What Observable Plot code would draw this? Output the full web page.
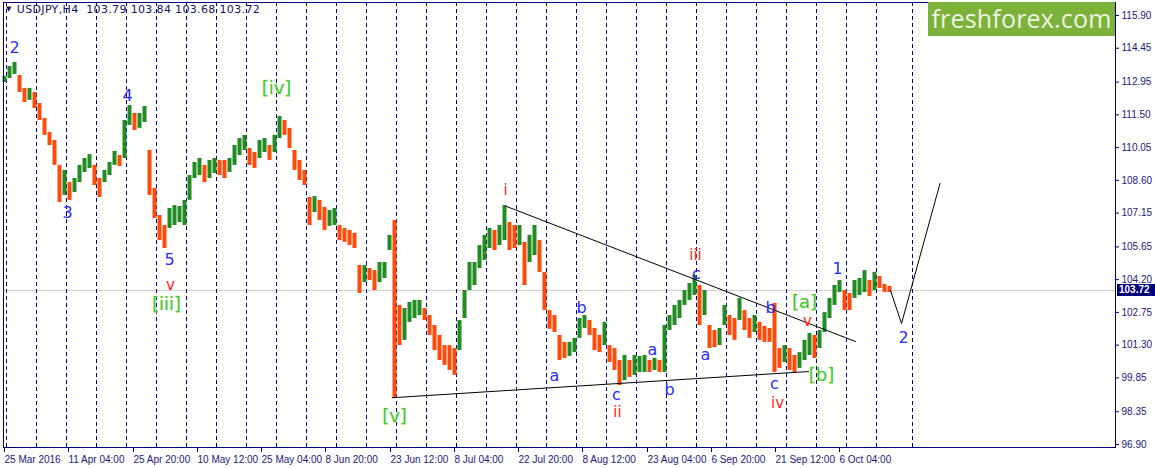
<!DOCTYPE html>
<html>
<head>
<meta charset="utf-8">
<script src="https://cdn.jsdelivr.net/npm/d3@7"></script>
<script src="https://cdn.jsdelivr.net/npm/@observablehq/plot@0.6"></script>
<style>
  html, body { margin: 0; padding: 0; background: #fff; }
  #wrap { position: relative; width: 1155px; height: 468px; overflow: hidden; }
  #title { position: absolute; left: 6px; top: 3px; font: 11px "DejaVu Sans", sans-serif; letter-spacing: 0.35px; color: #14145a; white-space: pre; }
  #title .tri { font-size: 7px; vertical-align: 2px; margin-right: 5px; }
  #logo { position: absolute; left: 928px; top: 2px; width: 187px; height: 34px; background: #7db23a;
          color: #eef3e2; font: 25px "Open Sans", sans-serif; line-height: 33px; text-align: center; letter-spacing: 0.2px; }
  #last { position: absolute; left: 1117px; width: 38px; height: 12px; background: #00007a; color: #fff;
          font: bold 10px "Liberation Sans", Arial, sans-serif; line-height: 12px; padding-left: 2px; }
</style>
</head>
<body>
<div id="wrap"></div>
<script>
// ---- data (USDJPY H4, sampled every 5 bars: high / low) ----
const symbol = "USDJPY,H4";
const ohlcNow = [103.79, 103.84, 103.68, 103.72];
const lastClose = 103.72;

const hi = [113.20,113.64,113.82,113.24,112.67,112.67,112.49,112.00,111.34,110.72,
110.36,109.26,109.04,108.50,108.68,109.26,109.57,109.74,109.26,108.68,
109.04,109.39,109.88,109.70,111.25,111.91,111.56,111.56,111.87,109.92,
108.24,107.04,106.60,107.35,107.48,107.44,107.71,108.81,109.39,109.57,
109.26,109.48,109.57,109.48,109.48,109.57,110.14,110.45,110.59,110.01,
109.83,110.36,110.45,110.14,110.59,111.43,111.25,110.90,109.92,109.48,
109.04,107.84,107.88,107.71,107.40,107.26,107.35,106.60,106.47,106.38,
106.25,104.83,104.83,104.69,104.60,104.96,104.96,106.16,106.82,103.06,
102.92,103.19,103.28,103.28,102.92,102.61,102.17,101.73,101.28,101.28,
101.15,102.39,103.72,104.96,104.96,105.71,106.16,106.47,106.38,106.60,
107.48,106.73,106.60,106.60,105.85,106.16,106.60,105.93,104.52,102.83,
102.61,101.73,101.42,101.42,101.60,102.48,102.61,102.39,102.04,101.73,
102.31,101.28,101.15,100.62,100.84,100.62,100.84,100.80,100.84,100.62,
100.71,100.62,102.17,102.61,103.06,103.28,103.72,104.03,104.39,103.94,
103.72,102.17,101.95,102.04,103.06,102.61,102.48,103.37,102.83,102.48,
102.61,102.31,102.13,102.04,103.15,101.15,101.28,101.15,100.84,100.97,
101.51,101.82,101.73,101.95,102.74,103.37,103.94,104.16,103.72,103.59,
104.16,104.25,104.60,104.16,104.52,104.34,103.99,103.90];

const lo = [112.93,113.11,113.29,112.49,112.05,112.14,111.78,111.25,110.59,110.14,
109.26,107.62,107.93,107.71,108.06,108.50,108.95,109.12,108.37,107.84,
108.50,108.81,109.26,109.21,109.57,111.03,110.81,110.90,111.16,107.93,
106.91,105.93,105.58,106.47,106.60,106.73,106.60,107.71,108.68,108.81,
108.50,108.68,108.90,108.81,108.68,108.95,109.26,109.70,109.92,109.26,
109.12,109.57,109.83,109.48,109.83,110.45,110.59,110.01,109.04,108.59,
108.37,106.60,107.17,106.82,106.38,106.56,106.60,105.93,105.85,105.71,
105.58,103.59,104.07,104.16,103.72,104.07,104.25,105.49,98.98,101.28,
101.51,102.31,102.48,102.61,102.39,101.73,101.06,100.62,100.40,100.18,
99.96,101.06,102.48,103.72,103.94,104.69,105.05,105.58,105.49,105.71,
105.93,105.49,105.58,105.71,103.94,104.96,105.27,104.52,102.83,102.00,
101.86,100.62,100.71,100.80,100.97,101.60,102.04,101.73,101.06,100.97,
101.28,100.53,100.18,99.51,99.73,99.87,99.96,100.09,100.09,100.09,
100.18,100.09,100.09,101.95,102.17,102.48,103.06,103.28,103.50,102.17,
102.61,101.15,101.19,101.28,102.17,101.73,101.51,102.39,101.95,101.60,
101.86,101.51,101.42,101.42,100.09,100.27,100.53,100.18,100.09,100.27,
100.62,100.84,100.71,101.15,101.86,102.48,103.06,103.63,102.83,102.83,
103.37,103.50,103.63,103.45,103.72,103.81,103.63,103.63];

const yTicks = [115.90,114.45,112.95,111.50,110.05,108.60,107.15,105.65,104.20,102.75,101.30,99.85,98.35,96.90];
const dateBars = [0,64,129,193,257,321,386,450,514,578,643,707,771,835];
const dateLabels = ["25 Mar 2016","11 Apr 04:00","25 Apr 20:00","10 May 12:00","25 May 04:00","8 Jun 20:00",
  "23 Jun 12:00","8 Jul 04:00","22 Jul 20:00","8 Aug 12:00","23 Aug 04:00","6 Sep 20:00","21 Sep 12:00","6 Oct 04:00"];

const upperTrend = [{bar: 502, p: 107.46}, {bar: 852, p: 101.46}];
const lowerTrend = [{bar: 388.7, p: 98.97}, {bar: 805, p: 100.13}];
const projection = [{bar: 887, p: 103.72}, {bar: 898, p: 102.26}, {bar: 936.5, p: 108.46}];

const waves = [
  {t:"2", bar:11, p:114.48, g:"num"}, {t:"3", bar:64, p:107.17, g:"num"}, {t:"4", bar:124, p:112.36, g:"num"},
  {t:"5", bar:166, p:105.09, g:"num"}, {t:"1", bar:834, p:104.69, g:"num"}, {t:"2", bar:900, p:101.64, g:"num"},
  {t:"a", bar:551, p:99.96, g:"num"}, {t:"b", bar:578, p:102.97, g:"num"}, {t:"c", bar:613, p:99.11, g:"num"},
  {t:"a", bar:649, p:101.11, g:"num"}, {t:"b", bar:666, p:99.34, g:"num"}, {t:"c", bar:693, p:104.45, g:"num"},
  {t:"a", bar:702, p:100.89, g:"num"}, {t:"b", bar:767, p:102.97, g:"num"}, {t:"c", bar:771, p:99.60, g:"num"},
  {t:"v", bar:167, p:103.97, g:"roman"}, {t:"i", bar:502, p:108.15, g:"roman"}, {t:"ii", bar:614, p:98.32, g:"roman"},
  {t:"iii", bar:692, p:105.28, g:"roman"}, {t:"iv", bar:774, p:98.72, g:"roman"}, {t:"v", bar:804, p:102.36, g:"roman"},
  {t:"[iv]", bar:273, p:112.67, g:"br"}, {t:"[iii]", bar:163, p:103.10, g:"br"}, {t:"[v]", bar:391, p:98.14, g:"br"},
  {t:"[a]", bar:801, p:103.22, g:"br"}, {t:"[b]", bar:818, p:99.96, g:"br"}
];

// ---- build ----
const bars = hi.map((h, k) => ({bar: 1 + 5 * k, hi: h, lo: lo[k], mid: (h + lo[k]) / 2}));
bars.forEach((d, k) => { d.up = k === 0 ? true : d.mid >= bars[k - 1].mid; });
const gridBars = d3.range(3, 874, 30).concat([909]);
const labelOf = new Map(dateBars.map((b, i) => [b, dateLabels[i]]));

const navy = "#000080";
const chart = Plot.plot({
  width: 1155, height: 468,
  marginLeft: 3, marginRight: 40, marginTop: 2, marginBottom: 21,
  style: {fontFamily: "'Liberation Sans', Arial, sans-serif", fontSize: "10px", color: "#1a1a7a", background: "#fff"},
  x: {domain: [0, 1112], axis: null},
  y: {domain: [96.766, 116.475], axis: null},
  marks: [
    Plot.ruleY([lastClose], {stroke: "#cfcfcf", strokeWidth: 1}),
    Plot.ruleX(gridBars, {stroke: navy, strokeDasharray: "4,3", strokeWidth: 1}),
    Plot.ruleX(bars.filter(d => d.up), {x: "bar", y1: "lo", y2: "hi", stroke: "#228b22", strokeWidth: 4}),
    Plot.ruleX(bars.filter(d => !d.up), {x: "bar", y1: "lo", y2: "hi", stroke: "#ff4a0a", strokeWidth: 4}),
    Plot.line(upperTrend, {x: "bar", y: "p", stroke: "#000", strokeWidth: 1}),
    Plot.line(lowerTrend, {x: "bar", y: "p", stroke: "#000", strokeWidth: 1}),
    Plot.line(projection, {x: "bar", y: "p", stroke: "#000", strokeWidth: 1}),
    Plot.text(waves.filter(d => d.g === "num"), {x: "bar", y: "p", text: "t", fill: "#2b2bff", fontSize: 16, fontFamily: "'DejaVu Sans', sans-serif"}),
    Plot.text(waves.filter(d => d.g === "roman"), {x: "bar", y: "p", text: "t", fill: "#ff2a14", fontSize: 15, fontFamily: "'DejaVu Sans', sans-serif"}),
    Plot.text(waves.filter(d => d.g === "br"), {x: "bar", y: "p", text: "t", fill: "#3cc73c", stroke: "#d6e84a", strokeWidth: 0.4, fontSize: 18, fontFamily: "'DejaVu Sans', sans-serif"}),
    Plot.frame({stroke: navy, strokeWidth: 1}),
    Plot.axisY(yTicks, {anchor: "right", label: null, tickSize: 3, tickPadding: 3, tickFormat: d => d.toFixed(2), stroke: navy}),
    Plot.axisX(dateBars, {anchor: "bottom", label: null, tickSize: 5, tickPadding: 3, tickFormat: d => labelOf.get(d), textAnchor: "start", dx: 1, stroke: navy})
  ]
});

const wrap = document.getElementById("wrap");
wrap.appendChild(chart);

const title = document.createElement("div");
title.id = "title";
title.innerHTML = '<span class="tri">&#9660;</span>' + symbol + "  " + ohlcNow.map(v => v.toFixed(2)).join(" ");
wrap.appendChild(title);

const logo = document.createElement("div");
logo.id = "logo";
logo.textContent = "freshforex.com";
wrap.appendChild(logo);

const last = document.createElement("div");
last.id = "last";
last.textContent = lastClose.toFixed(2);
last.style.top = (chart.scale("y").apply(lastClose) - 6) + "px";
wrap.appendChild(last);
</script>
</body>
</html>
